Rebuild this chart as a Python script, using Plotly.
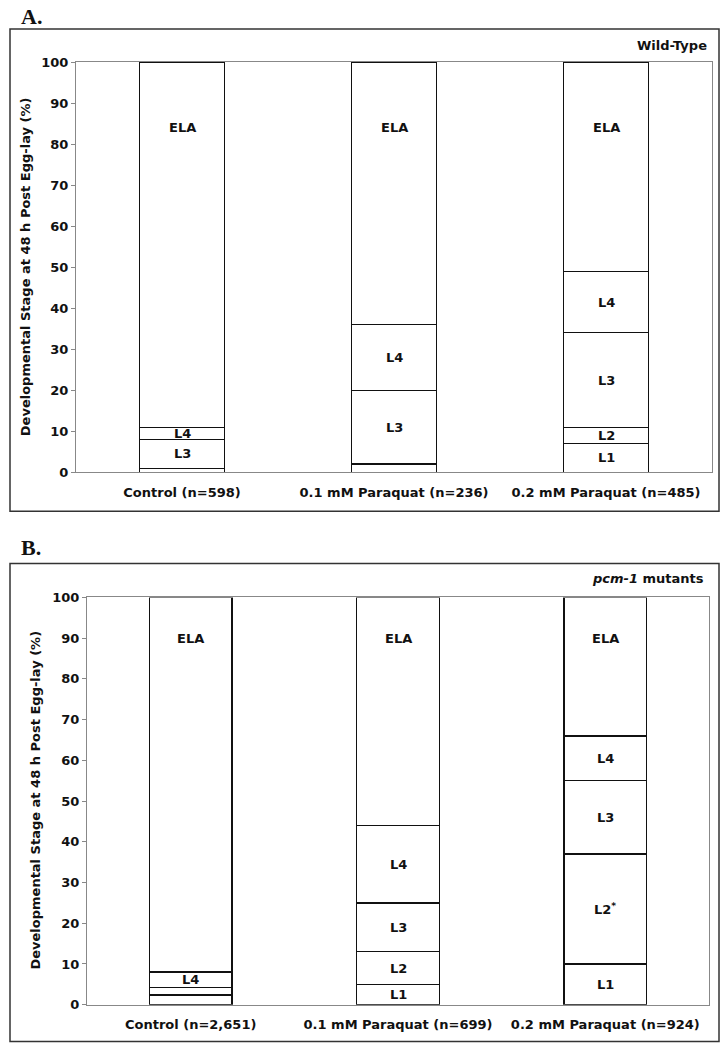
import plotly.graph_objects as go

W, H = 721, 1050

categories_a = ["Control (n=598)", "0.1 mM Paraquat (n=236)", "0.2 mM Paraquat (n=485)"]
categories_b = ["Control (n=2,651)", "0.1 mM Paraquat (n=699)", "0.2 mM Paraquat (n=924)"]
stages = ["L1", "L2", "L3", "L4", "ELA"]

# percent of animals at each stage (stacked from bottom)
wt_L1 = [0, 0, 7]
wt_L2 = [1, 2, 4]
wt_L3 = [7, 18, 23]
wt_L4 = [3, 16, 15]
wt_ELA = [89, 64, 51]

pcm_L1 = [2.4, 5, 10]
pcm_L2 = [0, 8, 27]
pcm_L3 = [1.9, 12, 18]
pcm_L4 = [3.7, 19, 11]
pcm_ELA = [92, 56, 34]

ela_label_y = {"a": 84, "b": 90}
y_ticks = [0, 10, 20, 30, 40, 50, 60, 70, 80, 90, 100]

FONT = "DejaVu Sans"
FS = 13


def px(x):
    return x / W


def py(y):
    # layout helper: pixel row -> paper fraction (empirically calibrated)
    v = 1 - ((y - 7) / 0.985) / H
    return min(max(v, 0.0005), 0.9995)


fig = go.Figure()

panels = [
    ("a", categories_a, [wt_L1, wt_L2, wt_L3, wt_L4, wt_ELA], "x", "y"),
    ("b", categories_b, [pcm_L1, pcm_L2, pcm_L3, pcm_L4, pcm_ELA], "x2", "y2"),
]

annotations = []
for key, cats, series, xa, ya in panels:
    for name, vals in zip(stages, series):
        fig.add_trace(go.Bar(
            x=cats, y=vals, name=name, xaxis=xa, yaxis=ya,
            marker=dict(color="white", line=dict(color="#111111", width=1.3)),
            width=0.4, showlegend=False, hoverinfo="skip",
        ))
    # segment labels
    for i, c in enumerate(cats):
        base = 0
        for name, vals in zip(stages, series):
            v = vals[i]
            if name == "ELA":
                yl = ela_label_y[key]
            else:
                yl = base + v / 2
            txt = name
            if key == "b" and i == 2 and name == "L2":
                txt = "L2<sup>*</sup>"
            if v >= 3:
                annotations.append(dict(
                    x=c, y=yl, xref=xa, yref=ya, text=txt, showarrow=False,
                    xanchor="center", yanchor="middle",
                    font=dict(family=FONT, size=FS, color="#111111", weight="bold"),
                ))
            base += v

fig.update_layout(
    barmode="stack",
    width=W, height=H,
    margin=dict(l=0, r=0, t=0, b=0),
    paper_bgcolor="white", plot_bgcolor="white",
    font=dict(family=FONT, size=FS, color="#111111"),
)

tf = dict(family=FONT, size=FS, color="#111111", weight="bold")
axis_common = dict(showgrid=False, zeroline=False, showline=True, linecolor="#888888",
                   linewidth=1, mirror=True)
xt = dict(ticks="outside", ticklen=8, tickcolor="rgba(0,0,0,0)", tickfont=tf)
fig.update_layout(
    xaxis=dict(domain=[px(76), px(712)], anchor="y", **xt, **axis_common),
    yaxis=dict(domain=[py(472), py(62)], anchor="x", range=[0, 100], tickvals=y_ticks,
               ticks="outside", ticklen=4, tickcolor="#888888", tickfont=tf, **axis_common),
    xaxis2=dict(domain=[px(87), px(709)], anchor="y2", **xt, **axis_common),
    yaxis2=dict(domain=[py(1004), py(597)], anchor="x2", range=[0, 100], tickvals=y_ticks,
                ticks="outside", ticklen=4, tickcolor="#888888", tickfont=tf, **axis_common),
)

ytitle = "Developmental Stage at 48 h Post Egg-lay (%)"
annotations += [
    dict(x=px(25), y=py(267), text=ytitle, textangle=-90, xanchor="center", yanchor="middle",
         font=tf),
    dict(x=px(36), y=py(800), text=ytitle, textangle=-90, xanchor="center", yanchor="middle",
         font=tf),
    dict(x=px(19), y=1, text="A.", xanchor="left", yanchor="top", yshift=5,
         font=dict(family="Liberation Serif", size=22, color="#111111", weight="bold")),
    dict(x=px(19), y=py(547), text="B.", xanchor="left", yanchor="middle",
         font=dict(family="Liberation Serif", size=22, color="#111111", weight="bold")),
    dict(x=px(709), y=py(45), text="Wild-Type", xanchor="right", yanchor="middle", font=tf),
    dict(x=px(706), y=py(578), text="<i>pcm-1</i> mutants", xanchor="right", yanchor="middle",
         font=tf),
]
for a in annotations[-6:]:
    a.update(xref="paper", yref="paper", showarrow=False)

shapes = [
    dict(type="rect", xref="paper", yref="paper", x0=px(10), x1=px(719), y0=py(511), y1=py(29),
         line=dict(color="#333333", width=1.5)),
    dict(type="rect", xref="paper", yref="paper", x0=px(10), x1=px(719), y0=py(1047), y1=py(563),
         line=dict(color="#333333", width=1.5)),
]

fig.update_layout(annotations=annotations, shapes=shapes)
post = ("document.body.style.margin='0';"
        "var g=document.querySelector('.plotly-graph-div');"
        "g.style.position='fixed';g.style.top='0px';g.style.left='0px';")
fig.write_html("out.html", config={"displayModeBar": False}, post_script=post)
